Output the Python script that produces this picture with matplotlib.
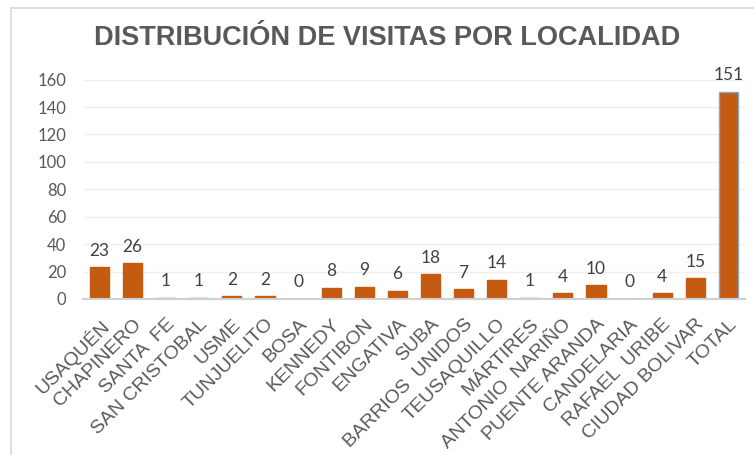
import matplotlib
matplotlib.use("Agg")
import matplotlib.pyplot as plt
from matplotlib.lines import Line2D

# data
localidades = ["USAQUÉN", "CHAPINERO", "SANTA  FE", "SAN CRISTOBAL", "USME",
               "TUNJUELITO", "BOSA", "KENNEDY", "FONTIBON", "ENGATIVA", "SUBA",
               "BARRIOS  UNIDOS", "TEUSAQUILLO", "MÁRTIRES", "ANTONIO  NARIÑO",
               "PUENTE ARANDA", "CANDELARIA", "RAFAEL  URIBE", "CIUDAD BOLIVAR",
               "TOTAL"]
visitas = [23, 26, 1, 1, 2, 2, 0, 8, 9, 6, 18, 7, 14, 1, 4, 10, 0, 4, 15, 151]
yticks = [0, 20, 40, 60, 80, 100, 120, 140, 160]

BAR = "#C55A11"
GREY = "#595959"

fig = plt.figure(figsize=(7.54, 4.55), dpi=100)
ax = fig.add_axes([0.110, 0.343, 0.878, 0.482])

x = list(range(len(localidades)))
edges = [BAR] * (len(visitas) - 1) + ["#7FA7D9"]
bars = ax.bar(x, visitas, width=0.58, color=BAR, edgecolor=edges, linewidth=1.0)

for xi, v in zip(x, visitas):
    ax.annotate(str(v), (xi, v), xytext=(0, 12), textcoords="offset points",
                ha="center", va="center", fontsize=12.5, color="#404040",
                family="Lato")

ax.set_xlim(-0.5, len(localidades) - 0.5)
ax.set_ylim(0, 160)
ax.set_yticks(yticks)
ax.set_yticklabels([str(t) for t in yticks], family="Lato", fontsize=12, color=GREY)
ax.tick_params(axis="y", length=0, pad=12)
ax.set_xticks(x)
ax.set_xticklabels(localidades, rotation=45, ha="right", rotation_mode="anchor",
                   family="Liberation Sans", fontsize=14, color=GREY)
ax.tick_params(axis="x", length=0, pad=12)

ax.grid(axis="y", color="#efefef", linewidth=1)
ax.set_axisbelow(True)
for side in ["top", "right", "left"]:
    ax.spines[side].set_visible(False)
ax.spines["bottom"].set_color("#d0d0d0")
ax.spines["bottom"].set_linewidth(1.5)

fig.text(0.514, 0.916, "DISTRIBUCIÓN DE VISITAS POR LOCALIDAD", ha="center",
         va="center", fontsize=19.5, fontweight="bold", color=GREY,
         family="Liberation Sans")

# chart frame (only top and left edges visible)
fig.add_artist(Line2D([11 / 754, 1], [1 - 8 / 455, 1 - 8 / 455],
                      color="#d9d9d9", linewidth=1.2, transform=fig.transFigure))
fig.add_artist(Line2D([11 / 754, 11 / 754], [0, 1 - 8 / 455],
                      color="#d9d9d9", linewidth=1.2, transform=fig.transFigure))

fig.savefig("out.png", dpi=100)
